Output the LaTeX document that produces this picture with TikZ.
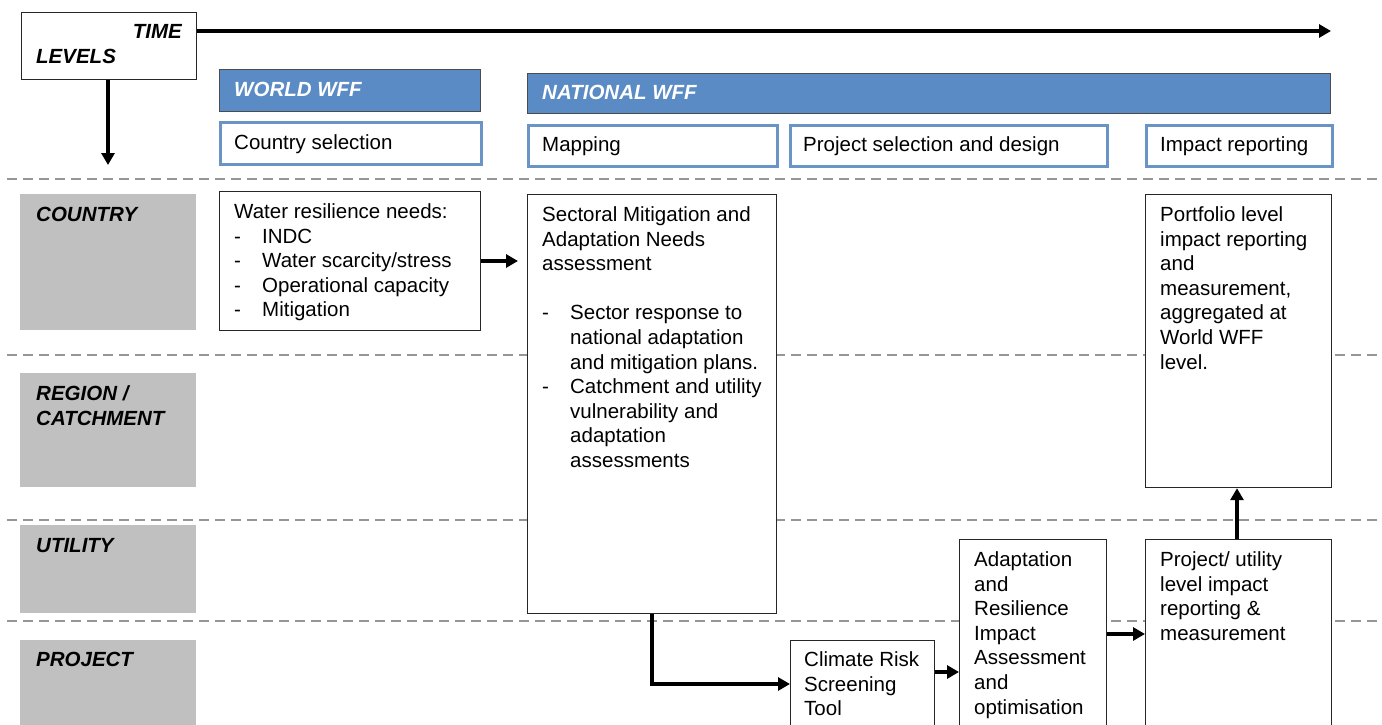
\documentclass[tikz,border=0pt]{standalone}
\usepackage{fontspec}
\setmainfont{Liberation Sans}
\usetikzlibrary{arrows.meta}
\definecolor{wffblue}{RGB}{91,139,197}
\definecolor{selblue}{RGB}{106,147,198}
\definecolor{lvlgray}{RGB}{192,192,192}
\definecolor{dashgray}{RGB}{150,150,150}
\newcommand\fsz{\fontsize{20.5}{24.6}\selectfont}
\newcommand\dashit{\makebox[28pt][l]{-}}
\newcommand\contit{\hspace*{28pt}}
\begin{document}
\begin{tikzpicture}[x=1pt,y=-1pt,
  box/.style={draw=black!85, line width=1.2pt, fill=white, anchor=north west, inner sep=0pt},
  selbox/.style={draw=selblue, line width=3pt, fill=white, anchor=north west, inner sep=0pt},
  bar/.style={draw=black!70, line width=1pt, fill=wffblue, anchor=north west, inner sep=0pt},
  lvlbox/.style={fill=lvlgray, anchor=north west, inner sep=0pt},
  txt/.style={anchor=north west, inner sep=0pt, align=left, font=\fsz},
  bartxt/.style={txt, text=white, font=\fsz\bfseries\itshape},
  lvltxt/.style={txt, font=\fsz\bfseries\itshape},
  sep/.style={dashgray, line width=2pt, dash pattern=on 10pt off 6pt},
  flow/.style={line width=3.8pt, -{Triangle[length=12pt,width=13pt]}}
]
\clip (0,0) rectangle (1382,725);
\fill[white] (0,0) rectangle (1382,725);

% separators
\draw[sep] (7,179) -- (1382,179);
\draw[sep] (7,355) -- (1382,355);
\draw[sep] (7,520) -- (1382,520);
\draw[sep] (7,621) -- (1382,621);

% corner box
\node[box, minimum width=175pt, minimum height=67pt] (corner) at (21,12) {};
\node[txt, font=\fsz\bfseries\itshape, anchor=north east] (time) at (182,21) {\strut TIME};
\node[lvltxt] (levels) at (36,46) {\strut LEVELS};
\coordinate (timeend) at (1331,31);
\draw[flow] (corner.east |- 0,31) -- (timeend);
\coordinate (lvlend) at (108,165);
\draw[flow] (corner.south -| lvlend) -- (lvlend);

% headers
\node[bar, minimum width=261pt, minimum height=42pt] (world) at (219,69) {};
\node[bartxt] (worldt) at (234,79) {\strut WORLD WFF};
\node[selbox, minimum width=261pt, minimum height=42pt] (csel) at (219,121) {};
\node[txt] (cselt) at (234,132) {\strut Country selection};

\node[bar, minimum width=803pt, minimum height=40pt] (national) at (527,73) {};
\node[bartxt] (nationalt) at (542,82) {\strut NATIONAL WFF};
\node[selbox, minimum width=249pt, minimum height=41pt] (mapping) at (527,124) {};
\node[txt] (mappingt) at (542,134) {\strut Mapping};
\node[selbox, minimum width=317pt, minimum height=41pt] (psel) at (789,124) {};
\node[txt] (pselt) at (803,134) {\strut Project selection and design};
\node[selbox, minimum width=186pt, minimum height=41pt] (irep) at (1145,124) {};
\node[txt] (irept) at (1160,134) {\strut Impact reporting};

% level boxes
\node[lvlbox, minimum width=176pt, minimum height=136pt] (lcountry) at (20,194) {};
\node[lvltxt] (lcountryt) at (36,204) {\strut COUNTRY};
\node[lvlbox, minimum width=176pt, minimum height=114pt] (lregion) at (20,373) {};
\node[lvltxt] (lregiont) at (36,383) {\strut REGION /\\CATCHMENT};
\node[lvlbox, minimum width=176pt, minimum height=88pt] (lutility) at (20,525) {};
\node[lvltxt] (lutilityt) at (36,535) {\strut UTILITY};
\node[lvlbox, minimum width=176pt, minimum height=90pt] (lproject) at (20,640) {};
\node[lvltxt] (lprojectt) at (36,649) {\strut PROJECT};

% content boxes
\node[box, minimum width=261pt, minimum height=139pt] (water) at (219,191) {};
\node[txt] (watert) at (234,201) {\strut Water resilience needs:\\
\dashit INDC\\ \dashit Water scarcity/stress\\ \dashit Operational capacity\\ \dashit Mitigation};

\node[box, minimum width=249pt, minimum height=419pt] (sect) at (527,194) {};
\node[txt] (sectt) at (542,204) {\strut Sectoral Mitigation and\\Adaptation Needs\\assessment\\[24.6pt]
\dashit Sector response to\\ \contit national adaptation\\ \contit and mitigation plans.\\
\dashit Catchment and utility\\ \contit vulnerability and\\ \contit adaptation\\ \contit assessments};

\node[box, minimum width=186pt, minimum height=293pt] (portf) at (1145,194) {};
\node[txt] (portft) at (1160,204) {\strut Portfolio level\\impact reporting\\and\\measurement,\\aggregated at\\World WFF\\level.};

\node[box, minimum width=144pt, minimum height=88pt] (climate) at (790,640) {};
\node[txt] (climatet) at (804,649) {\strut Climate Risk\\Screening\\Tool};

\node[box, minimum width=147pt, minimum height=195pt] (adapt) at (959,539) {};
\node[txt] (adaptt) at (974,549) {\strut Adaptation\\and\\Resilience\\Impact\\Assessment\\and\\optimisation};

\node[box, minimum width=186pt, minimum height=195pt] (putil) at (1145,539) {};
\node[txt] (putilt) at (1160,549) {\strut Project/ utility\\level impact\\reporting \&\\measurement};

% connectors
\draw[flow, shorten >=9pt] (water.east |- 0,261) -- (sect.west |- 0,261);
\draw[flow] (sect.south) |- (climate.west |- 0,684);
\draw[flow] (climate.east |- 0,672) -- (adapt.west |- 0,672);
\draw[flow] (adapt.east |- 0,634) -- (putil.west |- 0,634);
\draw[flow] (putil.north -| 1237,0) -- (portf.south -| 1237,0);
\end{tikzpicture}
\end{document}
